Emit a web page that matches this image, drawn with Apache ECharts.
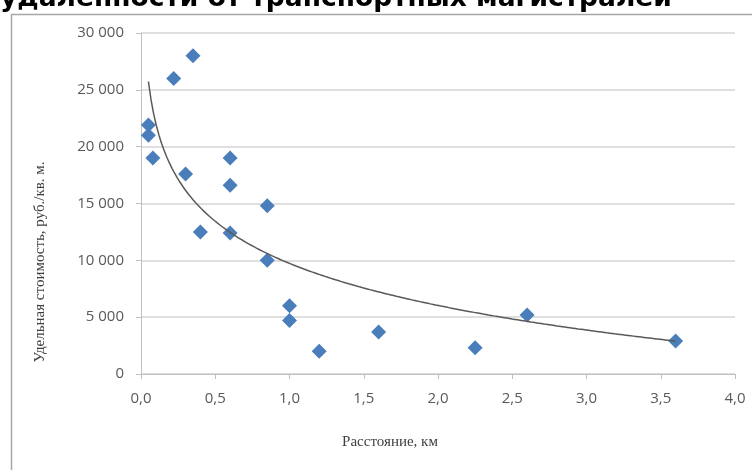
<!DOCTYPE html>
<html>
<head>
<meta charset="utf-8">
<script src="https://cdn.jsdelivr.net/npm/echarts@6/dist/echarts.min.js"></script>
<style>
html,body{margin:0;padding:0;background:#fff;}
#chart{width:752px;height:470px;}
</style>
</head>
<body>
<div id="chart"></div>
<script>
// Data
var titleText = 'удаленности от транспортных магистралей';
var xAxisTitle = 'Расстояние, км';
var yAxisTitle = 'Удельная стоимость, руб./кв. м.';
var distanceKm = [0.05, 0.05, 0.08, 0.22, 0.35, 0.30, 0.40, 0.60, 0.60, 0.60, 0.85, 0.85, 1.00, 1.00, 1.20, 1.60, 2.25, 2.60, 3.60];
var unitCost   = [21900, 21000, 19000, 26000, 28000, 17600, 12500, 19000, 16600, 12400, 14800, 10000, 6000, 4700, 2000, 3700, 2300, 5200, 2900];
var xMin = 0, xMax = 4, xStep = 0.5;
var yMin = 0, yMax = 30000, yStep = 5000;

// Scatter points
var points = distanceKm.map(function (x, i) { return [x, unitCost[i]]; });

// Logarithmic trend line (least squares fit y = a*ln(x) + b of the data, as in the spreadsheet)
var lx = distanceKm.map(Math.log);
var n = lx.length;
var mx = lx.reduce(function (s, v) { return s + v; }, 0) / n;
var my = unitCost.reduce(function (s, v) { return s + v; }, 0) / n;
var sxy = 0, sxx = 0;
for (var i = 0; i < n; i++) { sxy += (lx[i] - mx) * (unitCost[i] - my); sxx += (lx[i] - mx) * (lx[i] - mx); }
var a = sxy / sxx, b = my - a * mx;
var tMin = Math.min.apply(null, distanceKm), tMax = Math.max.apply(null, distanceKm);
var trend = [];
for (var k = 0; k <= 200; k++) {
  var tx = tMin + (tMax - tMin) * k / 200;
  trend.push([tx, a * Math.log(tx) + b]);
}

var chart = echarts.init(document.getElementById('chart'), null, {renderer: 'canvas'});
chart.setOption({
  animation: false,
  backgroundColor: '#ffffff',
  grid: {left: 141, right: 17, top: 33, bottom: 96, containLabel: false},
  xAxis: {
    type: 'value', min: xMin, max: xMax, interval: xStep,
    axisLine: {show: true, lineStyle: {color: '#bfbfbf', width: 1}},
    axisTick: {show: true, length: 5, lineStyle: {color: '#bfbfbf'}},
    splitLine: {show: false},
    axisLabel: {
      margin: 17, color: '#595959', fontFamily: 'Open Sans', fontSize: 15,
      formatter: function (v) { return v.toFixed(1).replace('.', ','); }
    }
  },
  yAxis: {
    type: 'value', min: yMin, max: yMax, interval: yStep,
    axisLine: {show: true, lineStyle: {color: '#bfbfbf', width: 1}},
    axisTick: {show: true, length: 5, lineStyle: {color: '#bfbfbf'}},
    splitLine: {show: true, lineStyle: {color: '#d4d4d4', width: 1.5}},
    axisLabel: {
      margin: 17, color: '#595959', fontFamily: 'Open Sans', fontSize: 15,
      formatter: function (v) { return String(v).replace(/\B(?=(\d{3})+(?!\d))/g, ' '); }
    }
  },
  series: [
    {
      type: 'line', data: trend, showSymbol: false, symbol: 'none', smooth: false,
      lineStyle: {color: '#595959', width: 1.5}, z: 3
    },
    {
      type: 'scatter', data: points, symbol: 'diamond', symbolSize: [15, 15],
      itemStyle: {color: '#4a7ebb', opacity: 1}, z: 2
    }
  ],
  graphic: [
    {
      type: 'rect', left: 9, top: 12, z: -1, silent: true,
      shape: {x: 0, y: 0, width: 760, height: 480},
      style: {fill: 'none', stroke: '#a6a6a6', lineWidth: 1.5}
    },
    {
      type: 'text', x: 0, y: 13, z: 10,
      style: {text: titleText, font: 'bold 26.5px "DejaVu Sans"', fill: '#000000', textAlign: 'left', textVerticalAlign: 'bottom'}
    },
    {
      type: 'text', x: 40, y: 262, rotation: Math.PI / 2,
      style: {text: yAxisTitle, font: '15px "Liberation Serif"', fill: '#404040', textAlign: 'center', textVerticalAlign: 'middle'}
    },
    {
      type: 'text', x: 390, y: 442,
      style: {text: xAxisTitle, font: '15px "Liberation Serif"', fill: '#404040', textAlign: 'center', textVerticalAlign: 'middle'}
    }
  ]
});
</script>
</body>
</html>
